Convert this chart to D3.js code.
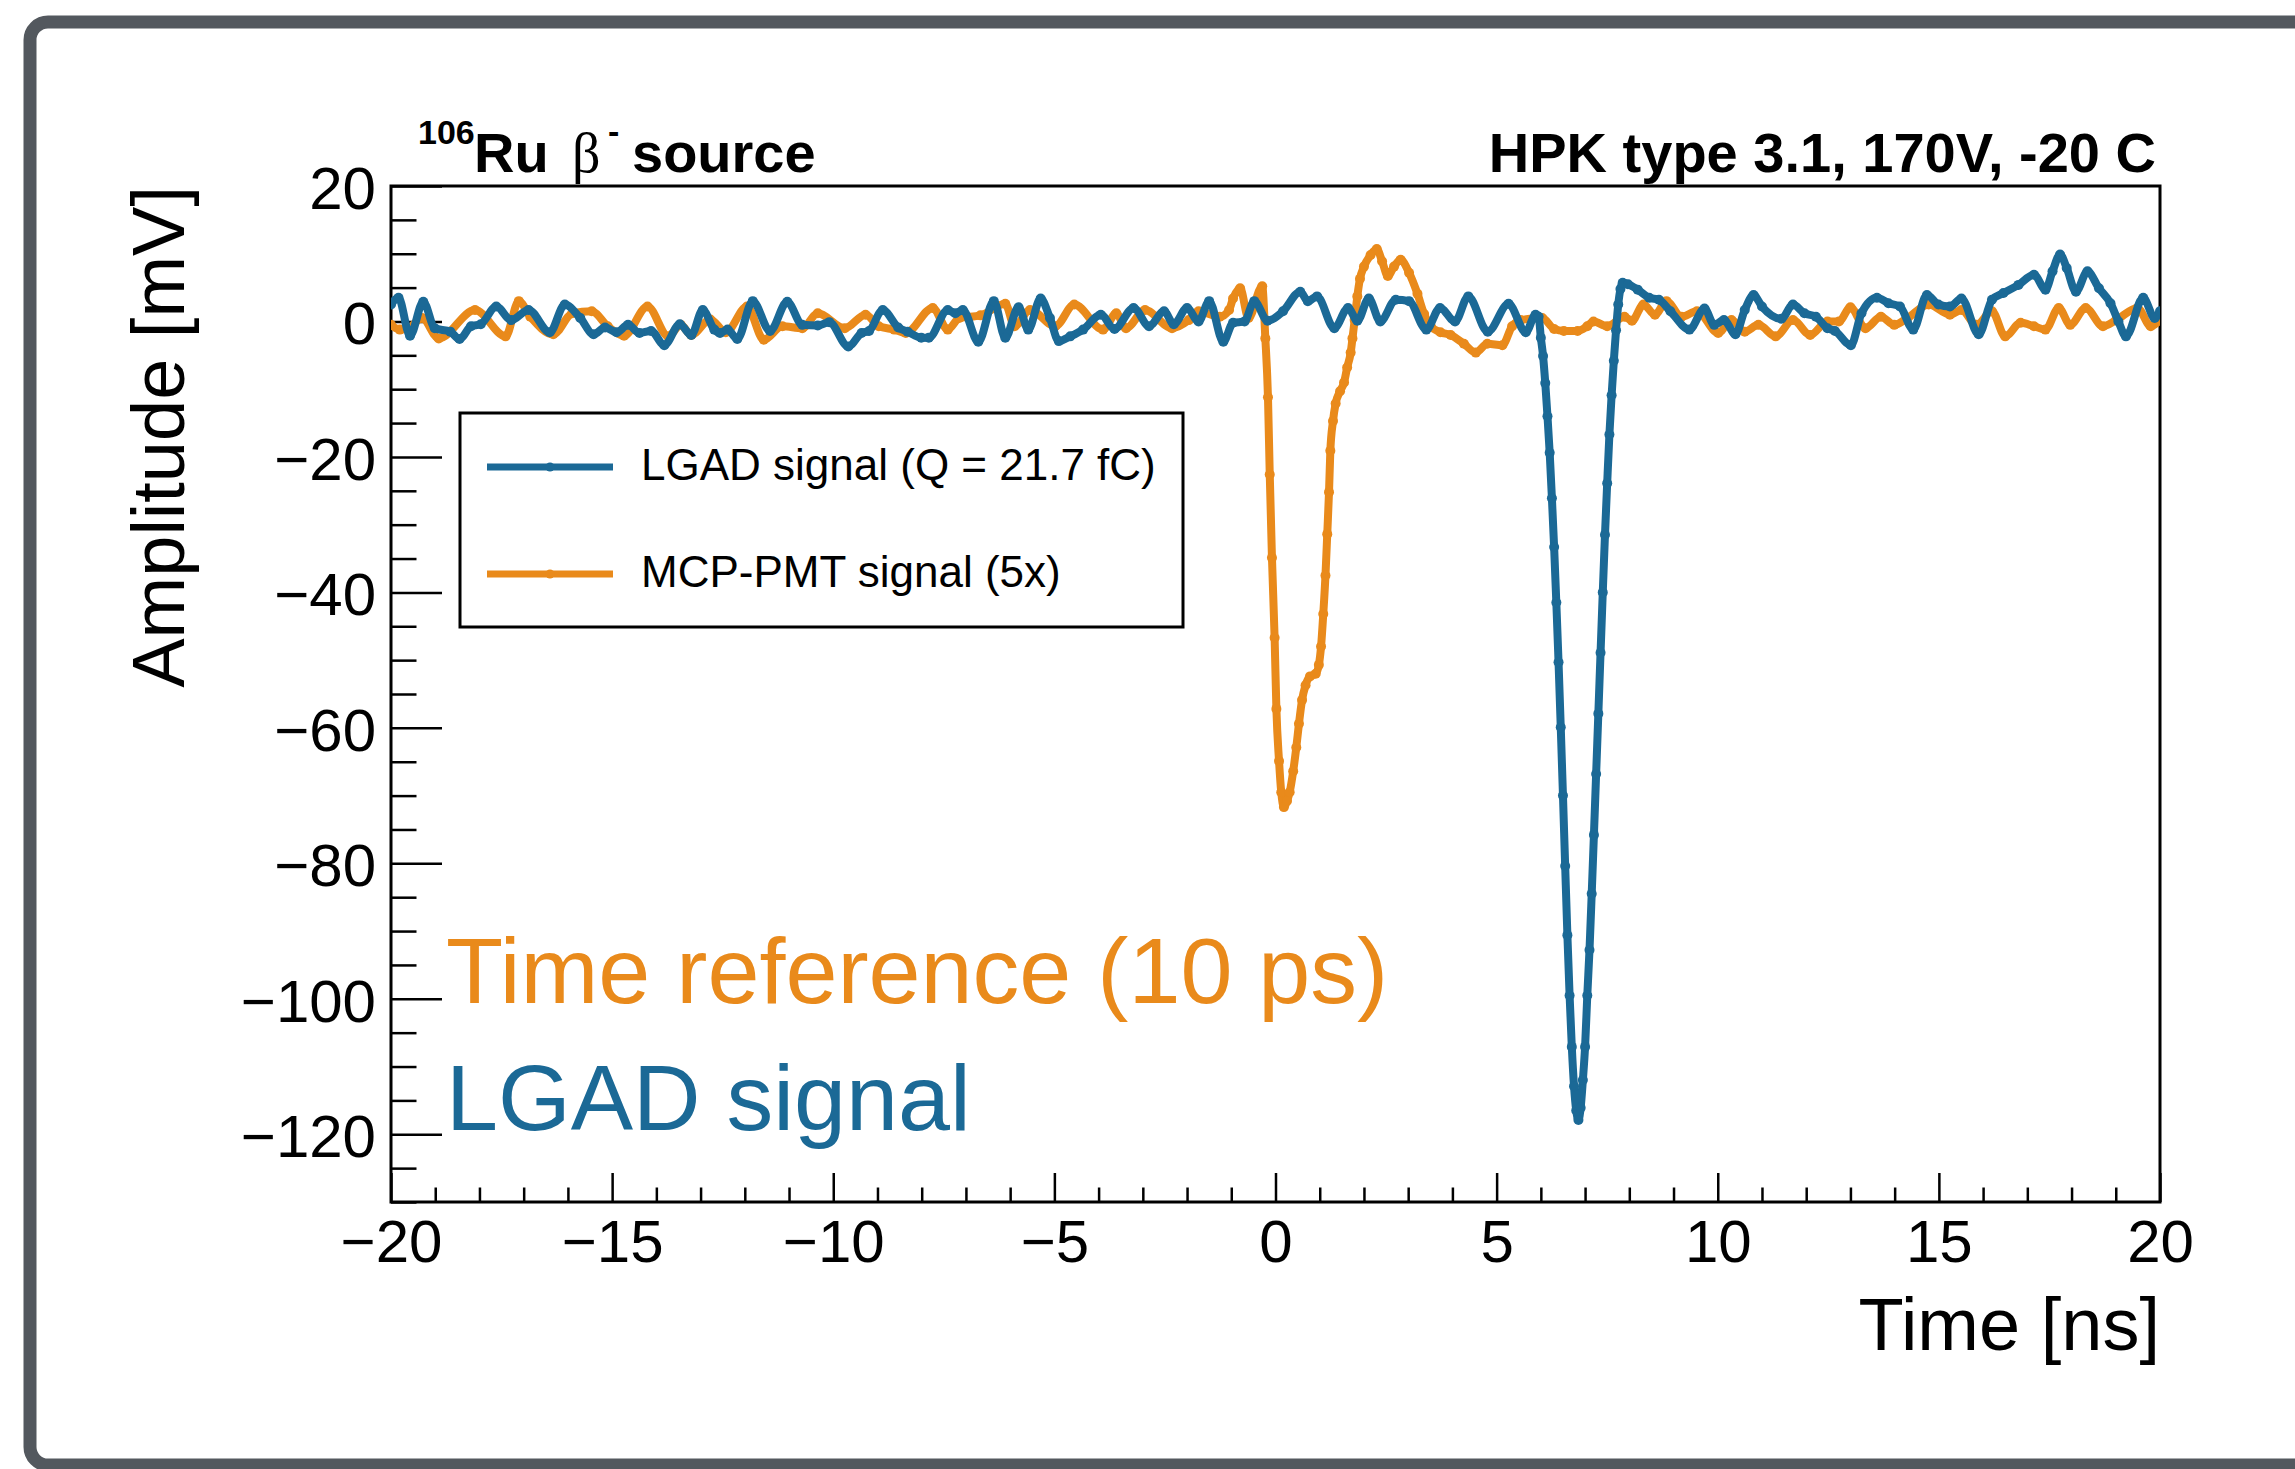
<!DOCTYPE html>
<html><head><meta charset="utf-8">
<script src="https://cdn.jsdelivr.net/npm/d3@7"></script>
<style>
body{margin:0;background:#fff}
svg{display:block}
text{font-family:"Liberation Sans",Arial,Helvetica,sans-serif}
</style>
</head><body>
<svg id="c" width="2295" height="1469"></svg>
<script>
// ---------------- data ----------------
const timeMajorTicks = [-20, -15, -10, -5, 0, 5, 10, 15, 20];
const ampMajorTicks = [20, 0, -20, -40, -60, -80, -100, -120];
const seriesNames = ["LGAD signal (Q = 21.7 fC)", "MCP-PMT signal (5x)"];

// LGAD signal: [time ns, amplitude mV]
const lgadSignal = [[-20.00,2.5],[-19.83,3.5],[-19.57,-2.1],[-19.27,2.9],[-19.01,-1.0],[-18.66,-1.5],[-18.45,-2.6],[-18.19,-0.7],[-17.97,-0.4],[-17.62,2.2],[-17.28,0.2],[-16.89,1.7],[-16.41,-1.6],[-16.07,2.5],[-15.72,0.5],[-15.42,-1.9],[-15.16,-0.9],[-14.90,-1.6],[-14.64,-0.5],[-14.38,-1.7],[-14.12,-1.4],[-13.82,-3.5],[-13.47,-0.4],[-13.21,-2.0],[-12.95,1.7],[-12.69,-1.2],[-12.56,-1.7],[-12.39,-1.2],[-12.17,-2.6],[-11.82,3.0],[-11.43,-1.4],[-11.04,2.9],[-10.70,-0.5],[-10.35,-0.6],[-10.09,-0.1],[-9.66,-3.7],[-9.36,-1.7],[-9.19,-1.4],[-8.88,1.7],[-8.53,-0.9],[-8.32,-1.5],[-8.01,-2.4],[-7.84,-2.4],[-7.41,1.7],[-7.24,1.2],[-7.07,1.7],[-6.72,-3.0],[-6.37,3.0],[-6.11,-2.4],[-5.81,2.1],[-5.59,-1.2],[-5.31,3.4],[-5.10,0.5],[-4.90,-2.9],[-4.64,-2.2],[-4.35,-1.2],[-3.95,1.0],[-3.64,-1.1],[-3.21,2.0],[-2.86,-0.7],[-2.52,1.5],[-2.30,-0.4],[-2.00,2.0],[-1.74,0.0],[-1.50,3.0],[-1.18,-3.0],[-0.96,-0.2],[-0.70,0.0],[-0.48,3.0],[-0.18,0.1],[0.17,1.5],[0.56,4.4],[0.73,3.0],[0.94,3.7],[1.33,-1.0],[1.64,2.0],[1.85,0.1],[2.11,3.4],[2.37,0.0],[2.72,3.2],[3.02,3.0],[3.41,-1.2],[3.72,2.0],[4.06,0.0],[4.36,3.7],[4.80,-1.5],[5.27,2.6],[5.66,-1.6],[5.88,1.0],[5.95,0.7],[6.00,-2.4],[6.05,-5.1],[6.10,-9.1],[6.15,-14.0],[6.20,-19.4],[6.25,-26.1],[6.30,-33.3],[6.35,-41.5],[6.40,-50.3],[6.45,-59.9],[6.50,-70.0],[6.55,-80.4],[6.60,-90.6],[6.65,-99.5],[6.70,-107.1],[6.75,-112.9],[6.80,-116.5],[6.85,-117.9],[6.90,-116.1],[6.95,-112.0],[7.00,-107.1],[7.05,-99.5],[7.10,-92.8],[7.15,-84.5],[7.20,-75.8],[7.25,-66.8],[7.30,-57.9],[7.35,-48.9],[7.40,-40.0],[7.45,-31.5],[7.50,-23.9],[7.55,-16.7],[7.60,-10.9],[7.65,-5.8],[7.70,-1.3],[7.75,2.5],[7.80,4.8],[7.85,5.7],[7.97,5.5],[8.19,4.7],[8.45,3.5],[8.67,3.2],[8.93,1.5],[9.36,-1.2],[9.70,1.9],[9.92,-0.5],[10.14,0.2],[10.40,-1.9],[10.61,1.7],[10.81,3.9],[11.00,2.2],[11.44,0.4],[11.70,2.5],[11.96,1.2],[12.22,0.7],[12.48,-1.0],[12.65,-1.4],[13.01,-3.5],[13.25,1.2],[13.60,3.5],[13.86,2.7],[14.12,2.2],[14.42,-1.2],[14.73,3.9],[14.99,2.5],[15.25,2.2],[15.51,3.4],[15.90,-1.9],[16.20,3.2],[16.46,4.2],[16.80,5.4],[17.15,6.9],[17.41,4.7],[17.57,7.4],[17.74,9.9],[17.89,7.9],[18.10,4.4],[18.36,7.4],[18.62,4.9],[18.88,2.7],[19.06,0.0],[19.23,-2.2],[19.62,3.5],[19.88,0.5],[20.00,1.5]];

// MCP-PMT signal (x5): [time ns, amplitude mV]
const mcpSignal = [[-20.00,-0.5],[-19.80,-1.2],[-19.60,-1.0],[-19.30,0.5],[-18.92,-2.5],[-18.10,1.7],[-17.41,-2.2],[-17.11,3.0],[-16.85,0.7],[-16.33,-1.9],[-15.90,1.2],[-15.46,1.5],[-15.10,-0.7],[-14.73,-2.1],[-14.20,2.2],[-13.73,-2.2],[-13.45,-0.5],[-13.21,-2.0],[-12.78,0.3],[-12.43,-1.6],[-11.95,2.2],[-11.57,-2.7],[-11.15,-0.7],[-10.70,-1.0],[-10.35,1.2],[-9.74,-1.0],[-9.27,1.0],[-8.97,-0.7],[-8.62,-1.2],[-8.36,-1.7],[-7.75,2.0],[-7.41,-1.2],[-7.15,0.5],[-6.67,0.9],[-6.11,2.6],[-5.90,-0.7],[-5.55,1.7],[-4.98,-0.7],[-4.55,2.5],[-3.90,-1.2],[-3.60,1.2],[-3.38,-1.0],[-2.95,1.7],[-2.34,-1.0],[-1.96,0.2],[-1.74,1.5],[-1.26,0.7],[-1.05,1.7],[-0.96,3.4],[-0.80,4.9],[-0.61,0.5],[-0.30,5.2],[-0.23,-2.5],[-0.17,-11.2],[-0.13,-22.6],[-0.08,-34.9],[-0.02,-46.7],[0.02,-57.2],[0.08,-64.9],[0.13,-69.5],[0.19,-71.7],[0.26,-70.8],[0.32,-69.5],[0.40,-66.4],[0.47,-62.9],[0.53,-59.4],[0.60,-55.9],[0.68,-53.7],[0.78,-52.4],[0.91,-52.0],[0.98,-50.7],[1.03,-48.0],[1.08,-43.2],[1.13,-37.5],[1.17,-31.4],[1.21,-25.2],[1.24,-19.1],[1.30,-14.7],[1.36,-12.1],[1.46,-10.3],[1.55,-9.0],[1.62,-6.8],[1.70,-4.6],[1.74,-2.5],[1.79,0.2],[1.85,3.7],[1.91,6.3],[2.00,8.1],[2.15,9.8],[2.29,10.7],[2.41,8.9],[2.54,6.7],[2.68,8.1],[2.83,9.1],[3.02,7.2],[3.21,4.1],[3.36,1.1],[3.51,-0.7],[3.73,-1.6],[3.96,-2.0],[4.26,-3.3],[4.53,-4.6],[4.79,-3.3],[5.13,-3.5],[5.35,-0.7],[5.54,0.2],[6.03,0.5],[6.30,-1.1],[6.52,-1.4],[6.83,-1.4],[7.05,-0.7],[7.19,0.0],[7.50,-0.7],[7.89,0.7],[8.06,0.1],[8.32,2.5],[8.58,1.0],[8.84,3.0],[9.18,0.7],[9.53,1.5],[10.01,-1.7],[10.31,0.2],[10.61,-1.5],[10.92,-0.5],[11.31,-2.2],[11.70,0.2],[12.09,-2.0],[12.48,0.0],[12.74,0.0],[13.00,2.1],[13.34,-1.0],[13.69,0.7],[13.99,-0.5],[14.29,0.5],[14.77,2.5],[15.25,1.0],[15.51,1.7],[15.85,-0.5],[16.20,1.5],[16.50,-2.2],[16.85,-0.2],[17.15,-0.7],[17.41,-1.2],[17.71,2.0],[17.97,-0.5],[18.32,2.0],[18.71,-0.7],[19.01,0.2],[19.49,2.0],[19.79,-0.7],[20.00,0.2]];

// ---------------- drawing ----------------
const BLUE = "#1b6996", ORANGE = "#e98a1b";
const svg = d3.select("#c");
const PL = 391, PR = 2160, PT = 186, PB = 1202;
const x = d3.scaleLinear().domain([-20, 20]).range([PL, PR]);
const y = d3.scaleLinear().domain([-130, 20]).range([PB, PT]);

svg.append("rect").attr("width", 2295).attr("height", 1469).attr("fill", "#fff");

// outer gray frame
svg.append("rect").attr("x", 30).attr("y", 22).attr("width", 2300).attr("height", 1443)
  .attr("rx", 18).attr("fill", "none").attr("stroke", "#53585e").attr("stroke-width", 13);

// minor ticks
const timeMinorTicks = d3.range(-20, 20.001, 1).filter(v => v % 5 !== 0);
const ampMinorTicks = d3.range(-130, 20, 5).filter(v => v % 20 !== 0);

function styleAxis(g, fs) {
  g.select(".domain").remove();
  g.selectAll(".tick line").attr("stroke", "#000").attr("stroke-width", 2.5);
  g.selectAll("text").attr("font-size", fs).attr("fill", "#000")
    .attr("font-family", '"Liberation Sans",Arial,sans-serif');
}

const gxMinor = svg.append("g").attr("transform", `translate(0,${PB})`)
  .call(d3.axisBottom(x).tickValues(timeMinorTicks).tickSize(-14.5).tickFormat(""));
styleAxis(gxMinor, 60);
const gx = svg.append("g").attr("transform", `translate(0,${PB})`)
  .call(d3.axisBottom(x).tickValues(timeMajorTicks).tickSize(-29).tickPadding(17).tickFormat(d3.format("d")));
styleAxis(gx, 60);

const gyMinor = svg.append("g").attr("transform", `translate(${PL},0)`)
  .call(d3.axisLeft(y).tickValues(ampMinorTicks).tickSize(-25.5).tickFormat(""));
styleAxis(gyMinor, 60);
const gy = svg.append("g").attr("transform", `translate(${PL},0)`)
  .call(d3.axisLeft(y).tickValues(ampMajorTicks).tickSize(-51).tickPadding(15).tickFormat(d3.format("d")));
styleAxis(gy, 60);
gy.selectAll("text").attr("dy", "0.37em");

// plot frame
svg.append("rect").attr("x", PL).attr("y", PT).attr("width", PR - PL).attr("height", PB - PT)
  .attr("fill", "none").attr("stroke", "#000").attr("stroke-width", 3);

// axis titles
svg.append("text").attr("x", PR).attr("y", 1350).attr("text-anchor", "end")
  .attr("font-size", 74).text("Time [ns]");
svg.append("text").attr("transform", `translate(184,${PT}) rotate(-90)`).attr("text-anchor", "end")
  .attr("font-size", 74).text("Amplitude [mV]");

// top titles
svg.append("text").attr("x", 2156).attr("y", 172).attr("text-anchor", "end")
  .attr("font-size", 56).attr("font-weight", "bold").text("HPK type 3.1, 170V, -20 C");
svg.append("text").attr("x", 418).attr("y", 144).attr("font-size", 34).attr("font-weight", "bold").text("106");
svg.append("text").attr("x", 474).attr("y", 172).attr("font-size", 56).attr("font-weight", "bold").text("Ru");
svg.append("text").attr("x", 572).attr("y", 172).attr("font-size", 56)
  .style("font-family", '"Liberation Serif","DejaVu Serif",serif').text("β");
svg.append("text").attr("x", 608).attr("y", 143).attr("font-size", 34).attr("font-weight", "bold").text("-");
svg.append("text").attr("x", 632).attr("y", 172).attr("font-size", 56).attr("font-weight", "bold").text("source");

// data
const clip = svg.append("clipPath").attr("id", "plotclip");
clip.append("rect").attr("x", PL).attr("y", PT).attr("width", PR - PL).attr("height", PB - PT);

const line = d3.line().x(d => x(d[0])).y(d => y(d[1])).curve(d3.curveMonotoneX);
const plot = svg.append("g").attr("clip-path", "url(#plotclip)");

function drawSeries(data, color) {
  const g = plot.append("g");
  g.append("path").datum(data).attr("d", line).attr("fill", "none")
    .attr("stroke", color).attr("stroke-width", 8).attr("stroke-linejoin", "round");
  g.selectAll("circle").data(data).join("circle")
    .attr("cx", d => x(d[0])).attr("cy", d => y(d[1])).attr("r", 5).attr("fill", color);
}
drawSeries(mcpSignal, ORANGE);
drawSeries(lgadSignal, BLUE);

// legend
const lg = svg.append("g");
lg.append("rect").attr("x", 460).attr("y", 413).attr("width", 723).attr("height", 214)
  .attr("fill", "#fff").attr("stroke", "#000").attr("stroke-width", 3);
const legendItems = [{name: seriesNames[0], color: BLUE, y: 467}, {name: seriesNames[1], color: ORANGE, y: 574}];
legendItems.forEach(it => {
  lg.append("line").attr("x1", 487).attr("x2", 613).attr("y1", it.y).attr("y2", it.y)
    .attr("stroke", it.color).attr("stroke-width", 7);
  lg.append("circle").attr("cx", 550).attr("cy", it.y).attr("r", 4.5).attr("fill", it.color);
  lg.append("text").attr("x", 641).attr("y", it.y + 13).attr("font-size", 44).text(it.name);
});

// big annotations
svg.append("text").attr("x", 446).attr("y", 1003).attr("font-size", 93.5).attr("fill", ORANGE)
  .text("Time reference (10 ps)");
svg.append("text").attr("x", 446).attr("y", 1130).attr("font-size", 93.5).attr("fill", BLUE)
  .text("LGAD signal");
</script>
</body></html>
